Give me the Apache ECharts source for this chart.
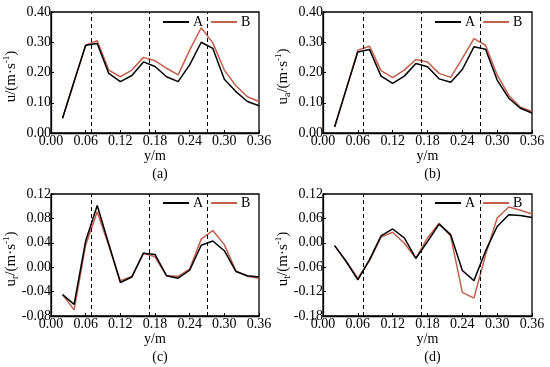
<!DOCTYPE html>
<html><head><meta charset="utf-8">
<script src="https://cdn.jsdelivr.net/npm/echarts@6/dist/echarts.min.js"></script>
<style>html,body{margin:0;padding:0;background:#fff}#c{width:550px;height:367px}</style>
</head><body><div id="c"></div>
<script>
const yPos = [0.02,0.04,0.06,0.08,0.10,0.12,0.14,0.16,0.18,0.20,0.22,0.24,0.26,0.28,0.30,0.32,0.34,0.36];
const uA  = [0.049,0.17,0.29,0.296,0.197,0.17,0.19,0.235,0.22,0.186,0.17,0.225,0.30,0.28,0.178,0.137,0.104,0.09];
const uB  = [0.049,0.17,0.29,0.305,0.208,0.186,0.208,0.25,0.239,0.214,0.192,0.274,0.348,0.298,0.208,0.156,0.12,0.104];
const uaA = [0.02,0.145,0.268,0.276,0.188,0.164,0.188,0.23,0.219,0.179,0.168,0.21,0.285,0.277,0.175,0.115,0.082,0.066];
const uaB = [0.02,0.145,0.274,0.287,0.206,0.183,0.208,0.243,0.235,0.197,0.184,0.247,0.312,0.29,0.192,0.124,0.085,0.071];
const urA = [-0.045,-0.061,0.043,0.101,0.038,-0.025,-0.016,0.023,0.021,-0.014,-0.018,-0.005,0.036,0.043,0.027,-0.007,-0.014,-0.016];
const urB = [-0.045,-0.07,0.036,0.091,0.035,-0.022,-0.015,0.023,0.017,-0.014,-0.015,-0.003,0.046,0.06,0.037,-0.006,-0.015,-0.018];
const utA = [-0.007,-0.046,-0.091,-0.042,0.017,0.034,0.012,-0.038,0.003,0.046,0.02,-0.068,-0.093,-0.02,0.04,0.069,0.067,0.062];
const utB = [-0.007,-0.046,-0.087,-0.044,0.014,0.026,-0.001,-0.038,0.012,0.048,0.016,-0.122,-0.136,-0.03,0.061,0.088,0.08,0.071];
const dashX = [0.07,0.17,0.27];
const xTicks = {min:0, max:0.36, interval:0.06};
const panels = [
  {tag:'(a)', sub:'', A:uA, B:uB, min:0, max:0.40, interval:0.10},
  {tag:'(b)', sub:'a', A:uaA, B:uaB, min:0, max:0.40, interval:0.10},
  {tag:'(c)', sub:'r', A:urA, B:urB, min:-0.08, max:0.12, interval:0.04},
  {tag:'(d)', sub:'t', A:utA, B:utB, min:-0.18, max:0.12, interval:0.06}
];
const FONT = "'Liberation Serif','Times New Roman',serif";
const FS = 14;
const boxes = [
  {left:51, top:12, width:208, height:121, legL:163, legT:15},
  {left:323, top:12, width:209, height:121, legL:435, legT:15},
  {left:51, top:194, width:208, height:122, legL:163, legT:196},
  {left:323, top:194, width:209, height:122, legL:435, legT:196}
];
const colA = '#000000', colB = '#c0604d';
const opt = {animation:false, grid:[], xAxis:[], yAxis:[], series:[], legend:[], title:[], graphic:[]};
panels.forEach((p,i)=>{
  const b = boxes[i];
  opt.grid.push({left:b.left, top:b.top, width:b.width, height:b.height, show:true, borderColor:'#000', borderWidth:1.3, containLabel:false});
  opt.xAxis.push({gridIndex:i, type:'value', min:xTicks.min, max:xTicks.max, interval:xTicks.interval,
    name:'y/m', nameLocation:'middle', nameGap:15, nameTextStyle:{fontFamily:FONT, fontSize:FS, color:'#000'},
    axisLine:{onZero:false, lineStyle:{color:'#000', width:1.3}}, axisTick:{inside:true, length:3, lineStyle:{color:'#000'}},
    axisLabel:{margin:1, fontFamily:FONT, fontSize:FS, color:'#000', formatter:v=>v.toFixed(2)}, splitLine:{show:false}});
  const nm = p.sub ? '{b|u}{s|'+p.sub+'}{b|/(m·s}{p|-1}{b|)}' : '{b|u/(m·s}{p|-1}{b|)}';
  opt.yAxis.push({gridIndex:i, type:'value', min:p.min, max:p.max, interval:p.interval,
    axisLine:{onZero:false, lineStyle:{color:'#000', width:1.3}}, axisTick:{inside:true, length:3, lineStyle:{color:'#000'}},
    axisLabel:{margin:0, fontFamily:FONT, fontSize:FS, color:'#000', formatter:v=>v.toFixed(2)}, splitLine:{show:false}});
  opt.graphic.push({type:'text', x:b.left - 40, y:b.top + b.height/2 + 4, rotation:Math.PI/2,
    style:{text:nm, align:'center', verticalAlign:'middle', font:'15px '+FONT, fill:'#000', rich:{
      b:{fontFamily:FONT, fontSize:15, fill:'#000', lineHeight:18, verticalAlign:'middle'},
      s:{fontFamily:FONT, fontSize:10, fill:'#000', verticalAlign:'bottom', lineHeight:18},
      p:{fontFamily:FONT, fontSize:9, fill:'#000', verticalAlign:'top', lineHeight:18}}}});
  opt.series.push({type:'line', name:'A', xAxisIndex:i, yAxisIndex:i, data:yPos.map((x,k)=>[x,p.A[k]]),
    symbol:'none', lineStyle:{color:colA, width:1.5}, itemStyle:{color:colA}, z:3,
    markLine:{silent:true, symbol:'none', label:{show:false}, lineStyle:{color:'#000', type:[4,3], width:1},
      data:dashX.map(x=>({xAxis:x}))}});
  opt.series.push({type:'line', name:'B', xAxisIndex:i, yAxisIndex:i, data:yPos.map((x,k)=>[x,p.B[k]]),
    symbol:'none', lineStyle:{color:colB, width:1.5}, itemStyle:{color:colB}, z:2});
  opt.legend.push({left:b.legL, top:b.legT, itemWidth:26, itemHeight:2, itemGap:8, padding:0, icon:'rect',
    textStyle:{fontFamily:FONT, fontSize:FS, color:'#000', padding:[0,0,0,-1]}, data:['A','B'], selectedMode:false});
  opt.title.push({text:p.tag, left:b.left + b.width/2, top:b.top + b.height + 29, textAlign:'center',
    textStyle:{fontFamily:FONT, fontSize:FS, fontWeight:'normal', color:'#000'}});
});
const ch = echarts.init(document.getElementById('c'), null, {renderer:'canvas'});
ch.setOption(opt);
</script></body></html>
